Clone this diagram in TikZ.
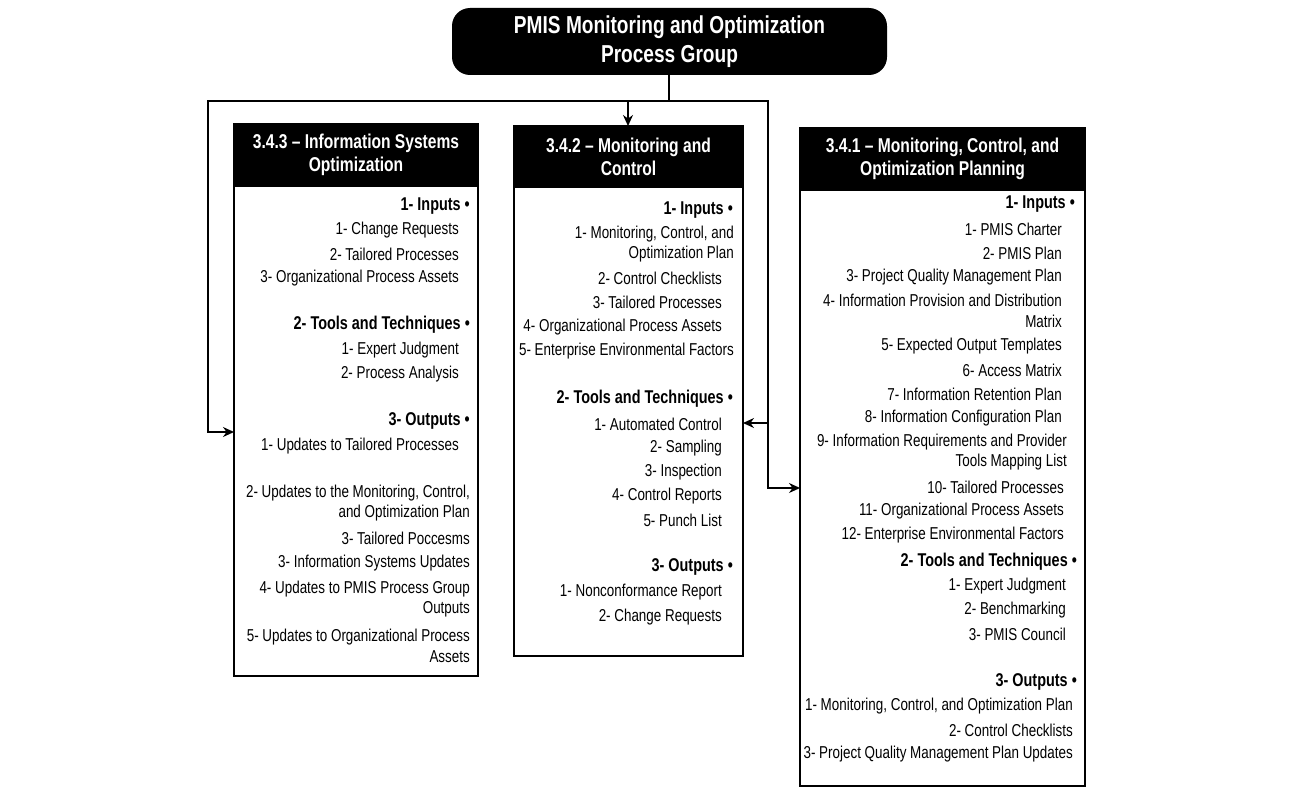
\documentclass[tikz,border=0pt]{standalone}
\usepackage{fontspec}
\setmainfont{Liberation Sans}[FakeStretch=0.78]
\usetikzlibrary{arrows.meta}
\begin{document}
\begin{tikzpicture}[x=1pt,y=-1pt,
  box/.style={draw,line width=1.5pt},
  hdr/.style={fill=black,draw,line width=1.5pt},
  htxt/.style={text=white,font=\fontsize{20}{23}\selectfont\bfseries,align=center},
  it/.style={anchor=east,inner sep=0pt,font=\fontsize{17.2}{20.5}\selectfont,align=right},
  sec/.style={anchor=east,inner sep=0pt,font=\fontsize{18.5}{20}\selectfont\bfseries},
  arr/.style={line width=1.5pt,-{Stealth[length=11pt,width=10pt]}},
  ln/.style={line width=1.5pt}]
\useasboundingbox (0,0) rectangle (1312,808);
\fill[white] (0,0) rectangle (1312,808);
% title
\node[fill=black,rounded corners=18pt,minimum width=435pt,minimum height=67pt,text=white,font=\fontsize{24.5}{29}\selectfont\bfseries,align=center] (title) at (669.5,41.5) {PMIS Monitoring and Optimization\\Process Group};
% boxes
\draw[box] (234,124) rectangle (478,676); \node[hdr,minimum width=244pt,minimum height=62pt] (h3) at (356,155) {};
\node[htxt] at (356,155) {3.4.3 – Information Systems\\Optimization};
\draw[box] (514,126) rectangle (743,656); \node[hdr,minimum width=229pt,minimum height=61pt] (h2) at (628.5,156.5) {};
\node[htxt] at (628.5,156.5) {3.4.2 – Monitoring and\\Control};
\draw[box] (800,128) rectangle (1085,786); \node[hdr,minimum width=285pt,minimum height=62pt] (h1) at (942.5,159) {};
\node[htxt] at (942.5,159) {3.4.1 – Monitoring, Control, and\\Optimization Planning};
\coordinate (b3) at (234,432); \coordinate (b2) at (743,423); \coordinate (b1) at (800,488); \coordinate (b2t) at (628,126);
% connectors
\coordinate (j) at (669,101);
\draw[ln] (title.south -| j) -- (j);
\draw[ln] (208,101) -- (768,101);
\draw[arr] (628,101) -- (b2t);
\draw[arr] (208,100.3) -- (208,432) -- (b3);
\draw[arr] (768,100.3) -- (768,488) -- (b1);
\draw[arr] (768,423) -- (b2);
% box 3 text
\node[sec] (a1) at (470,206) {1- Inputs •};
\node[it] (a2) at (459,230) {1- Change Requests};
\node[it] (a3) at (459,254) {2- Tailored Processes};
\node[it] (a4) at (459,278) {3- Organizational Process Assets};
\node[sec] (a5) at (470,325) {2- Tools and Techniques •};
\node[it] (a6) at (459,350) {1- Expert Judgment};
\node[it] (a7) at (459,374) {2- Process Analysis};
\node[sec] (a8) at (470,421) {3- Outputs •};
\node[it] (a9) at (459,446) {1- Updates to Tailored Processes};
\node[it] (a10) at (470,503) {2- Updates to the Monitoring, Control,\\and Optimization Plan};
\node[it] (a11) at (470,538) {3- Tailored Poccesms};
\node[it] (a12) at (470,563) {3- Information Systems Updates};
\node[it] (a13) at (470,599) {4- Updates to PMIS Process Group\\Outputs};
\node[it] (a14) at (470,646) {5- Updates to Organizational Process\\Assets};
% box 2 text
\node[sec] (c1) at (733,210) {1- Inputs •};
\node[it] (c2) at (734,244) {1- Monitoring, Control, and\\Optimization Plan};
\node[it] (c3) at (722,278) {2- Control Checklists};
\node[it] (c4) at (722,302) {3- Tailored Processes};
\node[it] (c5) at (722,327) {4- Organizational Process Assets};
\node[it] (c6) at (734,351) {5- Enterprise Environmental Factors};
\node[sec] (c7) at (733,399) {2- Tools and Techniques •};
\node[it] (c8) at (722,424) {1- Automated Control};
\node[it] (c9) at (722,448) {2- Sampling};
\node[it] (c10) at (722,472) {3- Inspection};
\node[it] (c11) at (722,496) {4- Control Reports};
\node[it] (c12) at (722,520) {5- Punch List};
\node[sec] (c13) at (733,567) {3- Outputs •};
\node[it] (c14) at (722,592) {1- Nonconformance Report};
\node[it] (c15) at (722,617) {2- Change Requests};
% box 1 text
\node[sec] (d1) at (1075,204) {1- Inputs •};
\node[it] (d2) at (1062,229) {1- PMIS Charter};
\node[it] (d3) at (1062,253) {2- PMIS Plan};
\node[it] (d4) at (1062,277) {3- Project Quality Management Plan};
\node[it] (d5) at (1062,311) {4- Information Provision and Distribution\\Matrix};
\node[it] (d6) at (1062,346) {5- Expected Output Templates};
\node[it] (d7) at (1062,370) {6- Access Matrix};
\node[it] (d8) at (1062,394) {7- Information Retention Plan};
\node[it] (d9) at (1062,418) {8- Information Configuration Plan};
\node[it] (d10) at (1067,452) {9- Information Requirements and Provider\\Tools Mapping List};
\node[it] (d11) at (1064,487) {10- Tailored Processes};
\node[it] (d12) at (1064,511) {11- Organizational Process Assets};
\node[it] (d13) at (1064,535) {12- Enterprise Environmental Factors};
\node[sec] (d14) at (1077,562) {2- Tools and Techniques •};
\node[it] (d15) at (1066,586) {1- Expert Judgment};
\node[it] (d16) at (1066,610) {2- Benchmarking};
\node[it] (d17) at (1066,634) {3- PMIS Council};
\node[sec] (d18) at (1077,682) {3- Outputs •};
\node[it] (d19) at (1073,706) {1- Monitoring, Control, and Optimization Plan};
\node[it] (d20) at (1073,730) {2- Control Checklists};
\node[it] (d21) at (1073,754) {3- Project Quality Management Plan Updates};
\end{tikzpicture}
\end{document}
